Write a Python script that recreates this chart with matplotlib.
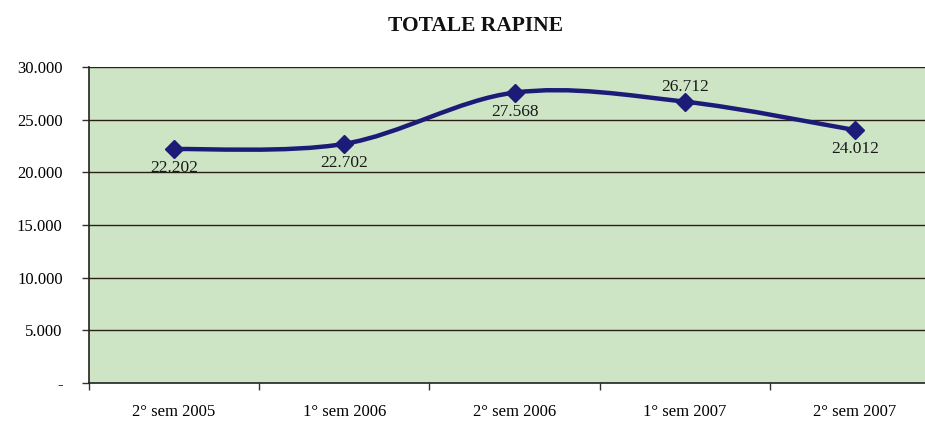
import numpy as np
import matplotlib
matplotlib.use("Agg")
import matplotlib.pyplot as plt
from matplotlib.path import Path
from matplotlib.patches import PathPatch

categories = ["2° sem 2005", "1° sem 2006", "2° sem 2006", "1° sem 2007", "2° sem 2007"]
values = [22202, 22702, 27568, 26712, 24012]
labels = ["22.202", "22.702", "27.568", "26.712", "24.012"]
yticks = [0, 5000, 10000, 15000, 20000, 25000, 30000]
ytick_labels = ["-", "5.000", "10.000", "15.000", "20.000", "25.000", "30.000"]
label_pos = ["below", "below", "below", "above", "below"]

plt.rcParams['font.family'] = ['Liberation Serif', 'DejaVu Serif']

fig = plt.figure(figsize=(9.25, 4.21), dpi=100)
W, H = 925, 421
left, right, top, bottom = 89, 940, 67, 383
ax = fig.add_axes([left / W, 1 - bottom / H, (right - left) / W, (bottom - top) / H])
ax.set_facecolor('#cde5c5')

x = np.arange(len(values))
ax.set_xlim(-0.5, len(values) - 0.5)
ax.set_ylim(0, 30000)

for yv in yticks[1:]:
    ax.axhline(yv, color='#2a1f18', lw=1.0, zorder=1)

# Excel-like smoothed line via Bezier segments
pts = np.column_stack([x, values]).astype(float)
verts = [pts[0]]
codes = [Path.MOVETO]
n = len(pts)
for i in range(n - 1):
    p0 = pts[i - 1] if i > 0 else pts[i]
    p1 = pts[i]
    p2 = pts[i + 1]
    p3 = pts[i + 2] if i + 2 < n else pts[i + 1]
    c1 = p1 + (p2 - p0) / 6
    c2 = p2 - (p3 - p1) / 6
    verts += [c1, c2, p2]
    codes += [Path.CURVE4] * 3
path = Path(verts, codes)
ax.add_patch(PathPatch(path, fill=False, edgecolor='#1c1c78', lw=3.2, zorder=3))
ax.plot(x, values, linestyle='none', marker='D', markersize=9, color='#1c1c78', zorder=4)

for xi, v, lab, pos in zip(x, values, labels, label_pos):
    if pos == "below":
        ax.annotate(lab, (xi, v), xytext=(0, -8), textcoords='offset points',
                    ha='center', va='top', fontsize=12.5, color='#1a1a1a', zorder=5)
    else:
        ax.annotate(lab, (xi, v), xytext=(0, 5), textcoords='offset points',
                    ha='center', va='bottom', fontsize=12.5, color='#1a1a1a', zorder=5)

ax.set_yticks(yticks)
ax.set_yticklabels(ytick_labels, fontsize=12)
ax.set_xticks(x)
ax.set_xticklabels(categories, fontsize=12)
ax.set_xticks(np.arange(-0.5, len(values), 1), minor=True)
ax.tick_params(axis='x', which='major', length=0, pad=15)
ax.tick_params(axis='x', which='minor', length=5, width=1, color='#333333', direction='out')
ax.tick_params(axis='y', length=5, width=1, color='#333333', direction='out', pad=14)

for s in ['top', 'right']:
    ax.spines[s].set_visible(False)
for s in ['left', 'bottom']:
    ax.spines[s].set_color('#222222')
    ax.spines[s].set_linewidth(1.2)

fig.text(475 / W, 1 - 26 / H, "TOTALE RAPINE", ha='center', va='center',
         fontsize=15.5, fontweight='bold', color='#111111')

fig.savefig('out.png', dpi=100)
